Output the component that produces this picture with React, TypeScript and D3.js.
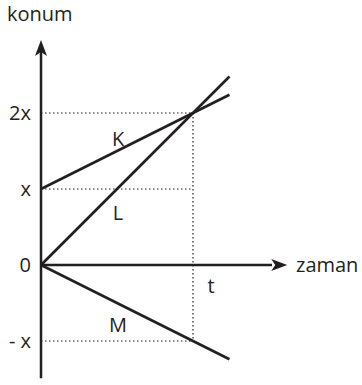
import React from "react";
import * as d3 from "d3";

// data
const lineNames = ["K", "L", "M"];
const startPos = [1, 0, 0];
const posAtT = [2, 2, -1];
const lineEndTime = [1.24, 1.24, 1.24];
const labelPos = [
  [0.5, 1.57],
  [0.5, 0.59],
  [0.5, -0.88],
];
const yTickValues = [2, 1, 0, -1];
const yTickLabels = ["2x", "x", "0", "- x"];
const tValue = 1;
const yAxisLabel = "konum";
const xAxisLabel = "zaman";
const tLabel = "t";

const W = 362;
const H = 385;
const INK = "#231f20";
const FONT = "'Open Sans', sans-serif";
const FS = 20;

export default function App() {
  const x = d3.scaleLinear().domain([0, 1]).range([41, 193]);
  const y = d3.scaleLinear().domain([0, 1]).range([265, 189]);

  const yTop = 2.96;
  const yBottom = -1.49;
  const xEnd = 1.62;

  const line = d3
    .line<[number, number]>()
    .x((d) => x(d[0]))
    .y((d) => y(d[1]));

  const pos = (i: number, tt: number) =>
    startPos[i] + ((posAtT[i] - startPos[i]) / tValue) * tt;

  // arrowheads
  const ay = y(yTop);
  const ax0 = x(0);
  const yArrow = `M${ax0},${ay} L${ax0 + 6},${ay + 16} L${ax0},${ay + 12} L${ax0 - 6},${ay + 16} Z`;
  const axTip = x(xEnd);
  const ay0 = y(0);
  const xArrow = `M${axTip},${ay0} L${axTip - 16},${ay0 - 6} L${axTip - 12},${ay0} L${axTip - 16},${ay0 + 6} Z`;

  const dotted = { stroke: "#222", strokeWidth: 1.2, strokeDasharray: "1.5 2.5", fill: "none" } as const;

  return (
    <svg
      width={W}
      height={H}
      style={{ position: "absolute", left: 0, top: 0, background: "#fff" }}
      fontFamily={FONT}
    >
      {/* dotted guides */}
      {yTickValues
        .filter((v) => v !== 0)
        .map((v, i) => (
          <path key={"g" + i} d={line([[0, v], [tValue, v]])!} {...dotted} />
        ))}
      <path d={line([[tValue, 2], [tValue, -1]])!} {...dotted} />

      {/* axes */}
      <path d={line([[0, yBottom], [0, yTop - 0.1]])!} stroke={INK} strokeWidth={2.5} fill="none" />
      <path d={yArrow} fill={INK} />
      <path d={line([[0, 0], [xEnd - 0.1, 0]])!} stroke={INK} strokeWidth={2.5} fill="none" />
      <path d={xArrow} fill={INK} />

      {/* motion lines */}
      {lineNames.map((n, i) => (
        <path
          key={n}
          d={line([[0, pos(i, 0)], [lineEndTime[i], pos(i, lineEndTime[i])]])!}
          stroke={INK}
          strokeWidth={2.6}
          fill="none"
        />
      ))}

      {/* line labels */}
      {lineNames.map((n, i) => (
        <text
          key={"l" + n}
          x={x(labelPos[i][0]) + 1}
          y={y(labelPos[i][1])}
          textAnchor="middle"
          fontSize={FS}
          fill={INK}
        >
          {n}
        </text>
      ))}

      {/* y tick labels */}
      {yTickValues.map((v, i) => (
        <text
          key={"t" + i}
          x={31}
          y={y(v) + 7}
          textAnchor="end"
          fontSize={FS}
          fill={INK}
        >
          {yTickLabels[i]}
        </text>
      ))}

      {/* t label */}
      <text x={x(tValue) + 18} y={y(0) + 28} textAnchor="middle" fontSize={FS} fill={INK}>
        {tLabel}
      </text>

      {/* axis titles */}
      <text x={7} y={21} fontSize={FS} fill={INK}>
        {yAxisLabel}
      </text>
      <text x={296} y={272} fontSize={FS} fill={INK}>
        {xAxisLabel}
      </text>
    </svg>
  );
}
